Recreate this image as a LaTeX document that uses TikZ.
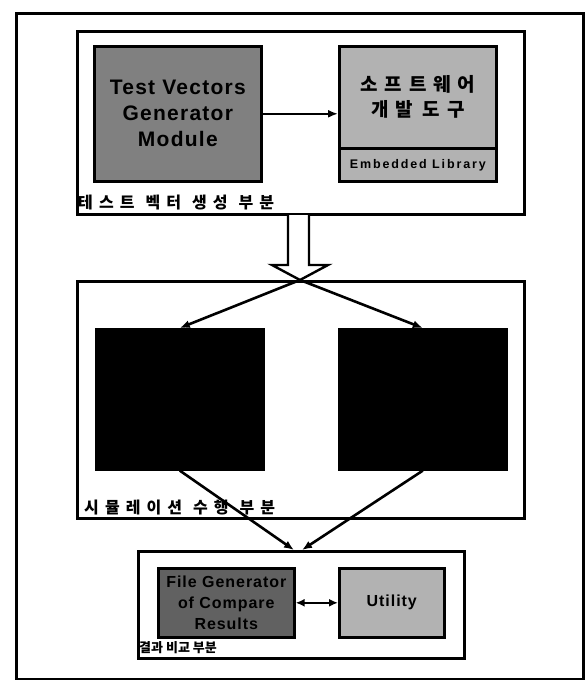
\documentclass[tikz,border=0pt]{standalone}
\usepackage{fontspec}
\setmainfont{Liberation Sans}
\newfontfamily\kr{Noto Sans CJK KR}
\newfontfamily\krsp[LetterSpace=38]{Noto Sans CJK KR}
\newfontfamily\krwide[LetterSpace=36]{Noto Sans CJK KR}
\newfontfamily\ensp[LetterSpace=6]{Liberation Sans}
\newfontfamily\enwide[LetterSpace=15]{Liberation Sans}
\usetikzlibrary{arrows.meta}
\definecolor{darkbox}{gray}{0.50}
\definecolor{darkerbox}{gray}{0.38}
\definecolor{lightbox}{gray}{0.70}
\begin{document}
\begin{tikzpicture}[x=1pt,y=-1pt,
  frame/.style={draw, line width=3.2pt, inner sep=0pt, anchor=north west},
  inbox/.style={draw, line width=2.6pt, inner sep=0pt, anchor=north west, align=center},
  conn/.style={line width=2.6pt, -{Latex[length=10pt,width=8pt]}},
  seclabel/.style={anchor=west, inner sep=0pt, font=\krsp\bfseries\fontsize{16}{16}\selectfont}
]
\useasboundingbox (0,0) rectangle (586,680);
\fill[white] (0,0) rectangle (586,680);

% outer frame
\node[frame, minimum width=567pt, minimum height=666pt] (outer) at (15,12) {};

% top section
\node[frame, minimum width=447pt, minimum height=183pt] (top) at (76,30) {};
\node[inbox, fill=darkbox, minimum width=167pt, minimum height=135pt,
      font=\ensp\bfseries\fontsize{21}{26}\selectfont] (gen) at (93,45)
      {Test Vectors\\Generator\\Module};
\node[inbox, fill=lightbox, minimum width=157pt, minimum height=102pt,
      font=\krwide\bfseries\fontsize{19}{25}\selectfont] (sw) at (338,45)
      {소프트웨어\\개발\hspace{10pt}도구};
\node[inbox, fill=lightbox, minimum width=157pt, minimum height=33pt,
      font=\enwide\bfseries\fontsize{12.5}{13}\selectfont] (lib) at (338,147)
      {Embedded Library};
\node[seclabel] (toplabel) at (78,203) {테스트\hspace{11pt}벡터\hspace{11pt}생성\hspace{11pt}부분};
\draw[conn] (gen.east) -- (sw.west |- gen.east);

% middle section
\node[frame, minimum width=447pt, minimum height=237pt] (mid) at (76,280) {};
\node[inbox, fill=black, minimum width=167pt, minimum height=140pt] (simA) at (95,328) {};
\node[inbox, fill=black, minimum width=167pt, minimum height=140pt] (simB) at (338,328) {};
\node[seclabel] (midlabel) at (84,508) {시뮬레이션\hspace{11pt}수행\hspace{11pt}부분};
\coordinate (split) at (300,280);

% hollow arrow
\draw[line width=2.4pt, fill=white, line join=miter] (288,215) -- (288,265) -- (272,265) -- (split) -- (328,265) -- (309,265) -- (309,215);

\draw[conn] (split) -- (simA.north);
\draw[conn] (split) -- (simB.north);

% bottom section
\node[frame, minimum width=326pt, minimum height=107pt] (bot) at (137,550) {};
\coordinate (joinA) at (294,550);
\coordinate (joinB) at (302,550);
\node[inbox, fill=darkerbox, minimum width=136pt, minimum height=69pt,
      font=\ensp\bfseries\fontsize{16}{21}\selectfont] (file) at (157,567)
      {File Generator\\of Compare\\Results};
\node[inbox, fill=lightbox, minimum width=105pt, minimum height=69pt,
      font=\ensp\bfseries\fontsize{16}{21}\selectfont] (util) at (338,567)
      {Utility};
\node[anchor=west, inner sep=0pt, font=\kr\bfseries\fontsize{13}{13}\selectfont] (botlabel) at (139,648) {결과 비교 부분};

\draw[conn] (simA.south) -- (joinA);
\draw[conn] (simB.south) -- (joinB);
\draw[line width=2.6pt, {Latex[length=9pt,width=8pt]}-{Latex[length=9pt,width=8pt]}] (file.east) -- (util.west);
\end{tikzpicture}
\end{document}
